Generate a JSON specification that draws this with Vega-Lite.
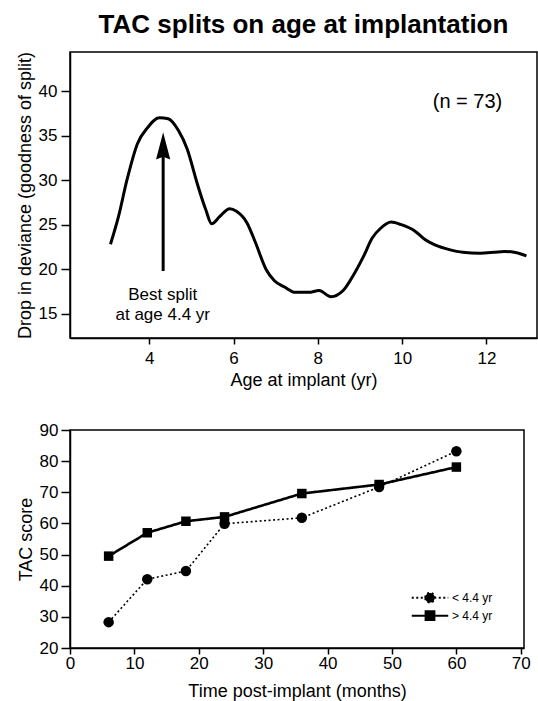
{
  "$schema": "https://vega.github.io/schema/vega-lite/v6.json",
  "description": "TAC splits on age at implantation: drop in deviance by age, and TAC score over time for the two age groups.",
  "padding": {"top": 11, "left": 15, "right": 0, "bottom": 0},
  "spacing": 30,
  "resolve": {"legend": {"strokeDash": "independent"}},
  "config": {
    "font": "Liberation Sans",
    "view": {"stroke": "black", "strokeWidth": 1.5},
    "axis": {
      "domainColor": "black",
      "domainWidth": 1.5,
      "tickColor": "black",
      "tickWidth": 1.5,
      "labelColor": "black",
      "titleColor": "black",
      "labelFont": "Liberation Sans",
      "titleFont": "Liberation Sans",
      "labelFontSize": 17,
      "titleFontSize": 18,
      "titleFontWeight": "normal",
      "grid": false,
      "labelFlush": false,
      "labelOverlap": false
    },
    "text": {"font": "Liberation Sans", "color": "black"}
  },
  "vconcat": [
    {
      "width": 467,
      "height": 286,
      "title": {
        "text": "TAC splits on age at implantation",
        "font": "Liberation Sans",
        "fontSize": 26,
        "fontWeight": "bold",
        "color": "black",
        "anchor": "middle",
        "frame": "group",
        "offset": 13
      },
      "layer": [
        {
          "data": {
            "values": [
              {"age": 3.08, "drop": 22.8},
              {"age": 3.27, "drop": 25.9},
              {"age": 3.47, "drop": 30.0},
              {"age": 3.72, "drop": 34.1},
              {"age": 3.96, "drop": 35.9},
              {"age": 4.24, "drop": 37.0},
              {"age": 4.45, "drop": 36.9},
              {"age": 4.69, "drop": 35.6},
              {"age": 4.90, "drop": 33.5},
              {"age": 5.14, "drop": 29.6},
              {"age": 5.34, "drop": 26.7},
              {"age": 5.48, "drop": 25.1},
              {"age": 5.67, "drop": 25.9},
              {"age": 5.91, "drop": 26.8},
              {"age": 6.07, "drop": 26.5},
              {"age": 6.32, "drop": 25.2},
              {"age": 6.52, "drop": 23.0},
              {"age": 6.77, "drop": 20.0},
              {"age": 6.97, "drop": 18.7},
              {"age": 7.21, "drop": 18.0},
              {"age": 7.46, "drop": 17.4},
              {"age": 7.78, "drop": 17.4},
              {"age": 8.03, "drop": 17.6},
              {"age": 8.31, "drop": 16.9},
              {"age": 8.60, "drop": 17.6},
              {"age": 8.84, "drop": 19.3},
              {"age": 9.09, "drop": 21.5},
              {"age": 9.29, "drop": 23.5},
              {"age": 9.49, "drop": 24.6},
              {"age": 9.74, "drop": 25.3},
              {"age": 9.98, "drop": 25.0},
              {"age": 10.30, "drop": 24.3},
              {"age": 10.55, "drop": 23.3},
              {"age": 10.79, "drop": 22.7},
              {"age": 11.12, "drop": 22.2},
              {"age": 11.44, "drop": 21.9},
              {"age": 11.85, "drop": 21.8},
              {"age": 12.18, "drop": 21.9},
              {"age": 12.42, "drop": 22.0},
              {"age": 12.66, "drop": 21.9},
              {"age": 12.95, "drop": 21.5}
            ]
          },
          "mark": {"type": "line", "color": "black", "strokeWidth": 3, "interpolate": "monotone"},
          "encoding": {
            "x": {
              "field": "age",
              "type": "quantitative",
              "scale": {"domain": [2.12, 13.2], "nice": false, "zero": false},
              "axis": {"values": [4, 6, 8, 10, 12], "title": "Age at implant (yr)", "tickSize": 6, "labelPadding": 6, "titlePadding": 5}
            },
            "y": {
              "field": "drop",
              "type": "quantitative",
              "scale": {"domain": [12.27, 44.4], "nice": false, "zero": false},
              "axis": {"values": [15, 20, 25, 30, 35, 40], "title": "Drop in deviance (goodness of split)", "tickSize": 9, "labelPadding": 4, "titlePadding": 4}
            }
          }
        },
        {
          "data": {"values": [{"age": 4.33, "from": 19.8, "to": 34.0}]},
          "mark": {"type": "rule", "color": "black", "strokeWidth": 3},
          "encoding": {
            "x": {"field": "age", "type": "quantitative"},
            "y": {"field": "from", "type": "quantitative"},
            "y2": {"field": "to"}
          }
        },
        {
          "data": {"values": [{"age": 4.33, "drop": 33.85}]},
          "mark": {"type": "point", "shape": "M0,-1L0.52,1L0,0.8L-0.52,1Z", "size": 750, "filled": true, "color": "black", "opacity": 1},
          "encoding": {
            "x": {"field": "age", "type": "quantitative"},
            "y": {"field": "drop", "type": "quantitative"}
          }
        },
        {
          "data": {
            "values": [
              {"age": 4.32, "drop": 17.1, "label": "Best split"},
              {"age": 4.32, "drop": 14.8, "label": "at age 4.4 yr"}
            ]
          },
          "mark": {"type": "text", "fontSize": 17, "align": "center", "baseline": "middle"},
          "encoding": {
            "x": {"field": "age", "type": "quantitative"},
            "y": {"field": "drop", "type": "quantitative"},
            "text": {"field": "label"}
          }
        },
        {
          "data": {"values": [{"age": 11.55, "drop": 38.8, "label": "(n = 73)"}]},
          "mark": {"type": "text", "fontSize": 20, "align": "center", "baseline": "middle"},
          "encoding": {
            "x": {"field": "age", "type": "quantitative"},
            "y": {"field": "drop", "type": "quantitative"},
            "text": {"field": "label"}
          }
        }
      ]
    },
    {
      "width": 454,
      "height": 218,
      "data": {
        "values": [
          {"month": 6, "score": 28.3, "group": "< 4.4 yr"},
          {"month": 12, "score": 42.1, "group": "< 4.4 yr"},
          {"month": 18, "score": 44.7, "group": "< 4.4 yr"},
          {"month": 24, "score": 59.9, "group": "< 4.4 yr"},
          {"month": 36, "score": 61.8, "group": "< 4.4 yr"},
          {"month": 48, "score": 71.7, "group": "< 4.4 yr"},
          {"month": 60, "score": 83.2, "group": "< 4.4 yr"},
          {"month": 6, "score": 49.5, "group": "> 4.4 yr"},
          {"month": 12, "score": 57.0, "group": "> 4.4 yr"},
          {"month": 18, "score": 60.7, "group": "> 4.4 yr"},
          {"month": 24, "score": 62.1, "group": "> 4.4 yr"},
          {"month": 36, "score": 69.6, "group": "> 4.4 yr"},
          {"month": 48, "score": 72.5, "group": "> 4.4 yr"},
          {"month": 60, "score": 78.1, "group": "> 4.4 yr"}
        ]
      },
      "encoding": {
        "x": {
          "field": "month",
          "type": "quantitative",
          "scale": {"domain": [0, 70.5], "nice": false},
          "axis": {"values": [0, 10, 20, 30, 40, 50, 60, 70], "title": "Time post-implant (months)", "tickSize": 6, "labelPadding": 1, "titlePadding": 11}
        },
        "y": {
          "field": "score",
          "type": "quantitative",
          "scale": {"domain": [20, 90], "nice": false, "zero": false},
          "axis": {"values": [20, 30, 40, 50, 60, 70, 80, 90], "tickCount": 8, "title": "TAC score", "tickSize": 9, "labelPadding": 3, "titlePadding": 4}
        }
      },
      "layer": [
        {
          "mark": {"type": "line", "color": "black"},
          "encoding": {
            "strokeDash": {
              "field": "group",
              "type": "nominal",
              "scale": {"domain": ["< 4.4 yr", "> 4.4 yr"], "range": [[2, 2.5], [1, 0]]},
              "legend": {
                "orient": "none",
                "legendX": 351,
                "legendY": 158.7,
                "title": null,
                "padding": 0,
                "labelFont": "Liberation Sans",
                "labelFontSize": 12,
                "labelColor": "black",
                "labelOffset": 13,
                "rowPadding": -3,
                "symbolSize": 256,
                "symbolStrokeWidth": 2,
                "symbolStrokeColor": "black",
                "symbolFillColor": "black",
                "encode": {
                  "symbols": {
                    "update": {
                      "shape": {"signal": "datum.value === '< 4.4 yr' ? 'M-2.28,0L2.28,0M-0.6,0A0.6,0.6,0,1,1,0.6,0A0.6,0.6,0,1,1,-0.6,0Z' : 'M-2.28,0L2.28,0M-0.55,-0.55L0.55,-0.55L0.55,0.55L-0.55,0.55Z'"},
                      "fill": {"value": "black"},
                      "stroke": {"value": "black"},
                      "strokeWidth": {"value": 2},
                      "opacity": {"value": 1}
                    }
                  }
                }
              }
            },
            "strokeWidth": {
              "field": "group",
              "type": "ordinal",
              "scale": {"domain": ["< 4.4 yr", "> 4.4 yr"], "range": [1.6, 2.6]},
              "legend": null
            }
          }
        },
        {
          "mark": {"type": "point", "filled": true, "color": "black", "opacity": 1},
          "encoding": {
            "shape": {
              "field": "group",
              "type": "nominal",
              "scale": {"domain": ["< 4.4 yr", "> 4.4 yr"], "range": ["circle", "square"]},
              "legend": null
            },
            "size": {
              "field": "group",
              "type": "ordinal",
              "scale": {"domain": ["< 4.4 yr", "> 4.4 yr"], "range": [110, 90]},
              "legend": null
            }
          }
        }
      ]
    }
  ]
}
